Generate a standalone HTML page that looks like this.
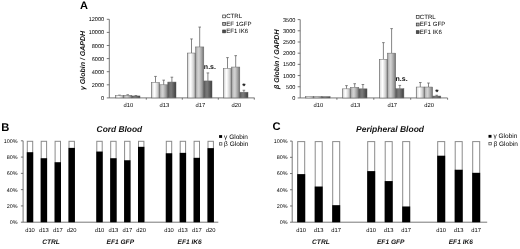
<!DOCTYPE html>
<html><head><meta charset="utf-8"><style>
html,body{margin:0;padding:0;background:#fff;}
body{width:520px;height:249px;overflow:hidden;}
svg{display:block;font-family:"Liberation Sans", sans-serif;text-rendering:geometricPrecision;will-change:transform;filter:blur(0.3px);}
</style></head><body>
<svg width="520" height="249" viewBox="0 0 520 249">
<rect width="520" height="249" fill="#fff"/>
<defs>
<linearGradient id="g0" x1="0" x2="1" y1="0" y2="0"><stop offset="0" stop-color="#8a8a8a"/><stop offset="0.15" stop-color="#e8e8e8"/><stop offset="0.4" stop-color="#ffffff"/><stop offset="0.75" stop-color="#d0d0d0"/><stop offset="1" stop-color="#8a8a8a"/></linearGradient>
<linearGradient id="g1" x1="0" x2="1" y1="0" y2="0"><stop offset="0" stop-color="#8a8a8a"/><stop offset="0.15" stop-color="#c0c0c0"/><stop offset="0.4" stop-color="#d4d4d4"/><stop offset="0.75" stop-color="#a0a0a0"/><stop offset="1" stop-color="#707070"/></linearGradient>
<linearGradient id="g2" x1="0" x2="1" y1="0" y2="0"><stop offset="0" stop-color="#505050"/><stop offset="0.15" stop-color="#6a6a6a"/><stop offset="0.4" stop-color="#7c7c7c"/><stop offset="0.75" stop-color="#5a5a5a"/><stop offset="1" stop-color="#3a3a3a"/></linearGradient>
</defs>
<text x="80.00" y="9.00" font-size="11" text-anchor="start" font-weight="bold" font-style="normal" fill="#000" >A</text>
<line x1="109.30" y1="19.30" x2="109.30" y2="97.90" stroke="#555" stroke-width="0.8"/>
<line x1="106.80" y1="97.90" x2="109.30" y2="97.90" stroke="#555" stroke-width="0.8"/>
<text x="104.20" y="99.90" font-size="5.6" text-anchor="end" font-weight="normal" font-style="normal" fill="#000" >0</text>
<line x1="106.80" y1="84.80" x2="109.30" y2="84.80" stroke="#555" stroke-width="0.8"/>
<text x="104.20" y="86.80" font-size="5.6" text-anchor="end" font-weight="normal" font-style="normal" fill="#000" >2000</text>
<line x1="106.80" y1="71.70" x2="109.30" y2="71.70" stroke="#555" stroke-width="0.8"/>
<text x="104.20" y="73.70" font-size="5.6" text-anchor="end" font-weight="normal" font-style="normal" fill="#000" >4000</text>
<line x1="106.80" y1="58.60" x2="109.30" y2="58.60" stroke="#555" stroke-width="0.8"/>
<text x="104.20" y="60.60" font-size="5.6" text-anchor="end" font-weight="normal" font-style="normal" fill="#000" >6000</text>
<line x1="106.80" y1="45.50" x2="109.30" y2="45.50" stroke="#555" stroke-width="0.8"/>
<text x="104.20" y="47.50" font-size="5.6" text-anchor="end" font-weight="normal" font-style="normal" fill="#000" >8000</text>
<line x1="106.80" y1="32.40" x2="109.30" y2="32.40" stroke="#555" stroke-width="0.8"/>
<text x="104.20" y="34.40" font-size="5.6" text-anchor="end" font-weight="normal" font-style="normal" fill="#000" >10000</text>
<line x1="106.80" y1="19.30" x2="109.30" y2="19.30" stroke="#555" stroke-width="0.8"/>
<text x="104.20" y="21.30" font-size="5.6" text-anchor="end" font-weight="normal" font-style="normal" fill="#000" >12000</text>
<line x1="109.30" y1="97.90" x2="254.50" y2="97.90" stroke="#555" stroke-width="0.8"/>
<line x1="146.30" y1="97.90" x2="146.30" y2="99.70" stroke="#555" stroke-width="0.8"/>
<line x1="182.30" y1="97.90" x2="182.30" y2="99.70" stroke="#555" stroke-width="0.8"/>
<line x1="218.30" y1="97.90" x2="218.30" y2="99.70" stroke="#555" stroke-width="0.8"/>
<line x1="254.30" y1="97.90" x2="254.30" y2="99.70" stroke="#555" stroke-width="0.8"/>
<text x="128.30" y="107.00" font-size="5.8" text-anchor="middle" font-weight="normal" font-style="normal" fill="#000" >d10</text>
<line x1="119.50" y1="95.15" x2="119.50" y2="95.61" stroke="#666" stroke-width="0.8"/>
<line x1="118.20" y1="95.15" x2="120.80" y2="95.15" stroke="#666" stroke-width="0.8"/>
<rect x="115.40" y="95.61" width="8.20" height="2.29" fill="url(#g0)" stroke="#666" stroke-width="0.5"/>
<line x1="127.70" y1="94.76" x2="127.70" y2="95.28" stroke="#666" stroke-width="0.8"/>
<line x1="126.40" y1="94.76" x2="129.00" y2="94.76" stroke="#666" stroke-width="0.8"/>
<rect x="123.60" y="95.28" width="8.20" height="2.62" fill="url(#g1)" stroke="#666" stroke-width="0.5"/>
<line x1="135.90" y1="95.54" x2="135.90" y2="95.94" stroke="#666" stroke-width="0.8"/>
<line x1="134.60" y1="95.54" x2="137.20" y2="95.54" stroke="#666" stroke-width="0.8"/>
<rect x="131.80" y="95.94" width="8.20" height="1.97" fill="url(#g2)" stroke="#666" stroke-width="0.5"/>
<text x="164.30" y="107.00" font-size="5.8" text-anchor="middle" font-weight="normal" font-style="normal" fill="#000" >d13</text>
<line x1="155.50" y1="76.42" x2="155.50" y2="82.51" stroke="#666" stroke-width="0.8"/>
<line x1="154.20" y1="76.42" x2="156.80" y2="76.42" stroke="#666" stroke-width="0.8"/>
<rect x="151.40" y="82.51" width="8.20" height="15.39" fill="url(#g0)" stroke="#666" stroke-width="0.5"/>
<line x1="163.70" y1="80.15" x2="163.70" y2="84.80" stroke="#666" stroke-width="0.8"/>
<line x1="162.40" y1="80.15" x2="165.00" y2="80.15" stroke="#666" stroke-width="0.8"/>
<rect x="159.60" y="84.80" width="8.20" height="13.10" fill="url(#g1)" stroke="#666" stroke-width="0.5"/>
<line x1="171.90" y1="77.20" x2="171.90" y2="82.05" stroke="#666" stroke-width="0.8"/>
<line x1="170.60" y1="77.20" x2="173.20" y2="77.20" stroke="#666" stroke-width="0.8"/>
<rect x="167.80" y="82.05" width="8.20" height="15.85" fill="url(#g2)" stroke="#666" stroke-width="0.5"/>
<text x="200.30" y="107.00" font-size="5.8" text-anchor="middle" font-weight="normal" font-style="normal" fill="#000" >d17</text>
<line x1="191.50" y1="38.95" x2="191.50" y2="53.03" stroke="#666" stroke-width="0.8"/>
<line x1="190.20" y1="38.95" x2="192.80" y2="38.95" stroke="#666" stroke-width="0.8"/>
<rect x="187.40" y="53.03" width="8.20" height="44.87" fill="url(#g0)" stroke="#666" stroke-width="0.5"/>
<line x1="199.70" y1="27.09" x2="199.70" y2="46.94" stroke="#666" stroke-width="0.8"/>
<line x1="198.40" y1="27.09" x2="201.00" y2="27.09" stroke="#666" stroke-width="0.8"/>
<rect x="195.60" y="46.94" width="8.20" height="50.96" fill="url(#g1)" stroke="#666" stroke-width="0.5"/>
<line x1="207.90" y1="72.94" x2="207.90" y2="80.94" stroke="#666" stroke-width="0.8"/>
<line x1="206.60" y1="72.94" x2="209.20" y2="72.94" stroke="#666" stroke-width="0.8"/>
<rect x="203.80" y="80.94" width="8.20" height="16.96" fill="url(#g2)" stroke="#666" stroke-width="0.5"/>
<text x="236.30" y="107.00" font-size="5.8" text-anchor="middle" font-weight="normal" font-style="normal" fill="#000" >d20</text>
<line x1="227.50" y1="57.62" x2="227.50" y2="68.56" stroke="#666" stroke-width="0.8"/>
<line x1="226.20" y1="57.62" x2="228.80" y2="57.62" stroke="#666" stroke-width="0.8"/>
<rect x="223.40" y="68.56" width="8.20" height="29.34" fill="url(#g0)" stroke="#666" stroke-width="0.5"/>
<line x1="235.70" y1="55.65" x2="235.70" y2="67.05" stroke="#666" stroke-width="0.8"/>
<line x1="234.40" y1="55.65" x2="237.00" y2="55.65" stroke="#666" stroke-width="0.8"/>
<rect x="231.60" y="67.05" width="8.20" height="30.85" fill="url(#g1)" stroke="#666" stroke-width="0.5"/>
<line x1="243.90" y1="90.24" x2="243.90" y2="92.20" stroke="#666" stroke-width="0.8"/>
<line x1="242.60" y1="90.24" x2="245.20" y2="90.24" stroke="#666" stroke-width="0.8"/>
<rect x="239.80" y="92.20" width="8.20" height="5.70" fill="url(#g2)" stroke="#666" stroke-width="0.5"/>
<text transform="translate(84.90,60.50) rotate(-90)" font-size="7" text-anchor="middle" font-weight="bold" font-style="italic" fill="#111">γ Globin / GAPDH</text>
<rect x="222.70" y="15.00" width="2.8" height="2.8" fill="#ffffff" stroke="#333" stroke-width="0.7"/>
<text x="226.20" y="18.20" font-size="6.1" text-anchor="start" font-weight="normal" font-style="normal" fill="#000" >CTRL</text>
<rect x="222.70" y="22.50" width="2.8" height="2.8" fill="#b8b8b8" stroke="#333" stroke-width="0.7"/>
<text x="226.20" y="25.70" font-size="6.1" text-anchor="start" font-weight="normal" font-style="normal" fill="#000" >EF 1GFP</text>
<rect x="222.70" y="30.00" width="2.8" height="2.8" fill="#505050" stroke="#333" stroke-width="0.7"/>
<text x="226.20" y="33.20" font-size="6.1" text-anchor="start" font-weight="normal" font-style="normal" fill="#000" >EF1 IK6</text>
<text x="209.90" y="68.60" font-size="7.0" text-anchor="middle" font-weight="bold" font-style="normal" fill="#111" >n.s.</text>
<text x="243.90" y="88.70" font-size="8.5" text-anchor="middle" font-weight="bold" font-style="normal" fill="#111" >*</text>
<line x1="300.20" y1="19.60" x2="300.20" y2="97.95" stroke="#555" stroke-width="0.8"/>
<line x1="297.70" y1="97.95" x2="300.20" y2="97.95" stroke="#555" stroke-width="0.8"/>
<text x="295.40" y="99.95" font-size="5.6" text-anchor="end" font-weight="normal" font-style="normal" fill="#000" >0</text>
<line x1="297.70" y1="86.76" x2="300.20" y2="86.76" stroke="#555" stroke-width="0.8"/>
<text x="295.40" y="88.76" font-size="5.6" text-anchor="end" font-weight="normal" font-style="normal" fill="#000" >500</text>
<line x1="297.70" y1="75.56" x2="300.20" y2="75.56" stroke="#555" stroke-width="0.8"/>
<text x="295.40" y="77.56" font-size="5.6" text-anchor="end" font-weight="normal" font-style="normal" fill="#000" >1000</text>
<line x1="297.70" y1="64.37" x2="300.20" y2="64.37" stroke="#555" stroke-width="0.8"/>
<text x="295.40" y="66.37" font-size="5.6" text-anchor="end" font-weight="normal" font-style="normal" fill="#000" >1500</text>
<line x1="297.70" y1="53.18" x2="300.20" y2="53.18" stroke="#555" stroke-width="0.8"/>
<text x="295.40" y="55.18" font-size="5.6" text-anchor="end" font-weight="normal" font-style="normal" fill="#000" >2000</text>
<line x1="297.70" y1="41.99" x2="300.20" y2="41.99" stroke="#555" stroke-width="0.8"/>
<text x="295.40" y="43.99" font-size="5.6" text-anchor="end" font-weight="normal" font-style="normal" fill="#000" >2500</text>
<line x1="297.70" y1="30.79" x2="300.20" y2="30.79" stroke="#555" stroke-width="0.8"/>
<text x="295.40" y="32.79" font-size="5.6" text-anchor="end" font-weight="normal" font-style="normal" fill="#000" >3000</text>
<line x1="297.70" y1="19.60" x2="300.20" y2="19.60" stroke="#555" stroke-width="0.8"/>
<text x="295.40" y="21.60" font-size="5.6" text-anchor="end" font-weight="normal" font-style="normal" fill="#000" >3500</text>
<line x1="300.20" y1="97.95" x2="447.50" y2="97.95" stroke="#555" stroke-width="0.8"/>
<line x1="336.90" y1="97.95" x2="336.90" y2="99.75" stroke="#555" stroke-width="0.8"/>
<line x1="373.80" y1="97.95" x2="373.80" y2="99.75" stroke="#555" stroke-width="0.8"/>
<line x1="410.70" y1="97.95" x2="410.70" y2="99.75" stroke="#555" stroke-width="0.8"/>
<line x1="447.60" y1="97.95" x2="447.60" y2="99.75" stroke="#555" stroke-width="0.8"/>
<text x="318.45" y="107.00" font-size="5.8" text-anchor="middle" font-weight="normal" font-style="normal" fill="#000" >d10</text>
<rect x="305.50" y="96.61" width="8.20" height="1.34" fill="url(#g0)" stroke="#666" stroke-width="0.5"/>
<rect x="313.70" y="96.61" width="8.20" height="1.34" fill="url(#g1)" stroke="#666" stroke-width="0.5"/>
<rect x="321.90" y="96.61" width="8.20" height="1.34" fill="url(#g2)" stroke="#666" stroke-width="0.5"/>
<text x="355.35" y="107.00" font-size="5.8" text-anchor="middle" font-weight="normal" font-style="normal" fill="#000" >d13</text>
<line x1="346.50" y1="85.64" x2="346.50" y2="88.84" stroke="#666" stroke-width="0.8"/>
<line x1="345.20" y1="85.64" x2="347.80" y2="85.64" stroke="#666" stroke-width="0.8"/>
<rect x="342.40" y="88.84" width="8.20" height="9.11" fill="url(#g0)" stroke="#666" stroke-width="0.5"/>
<line x1="354.70" y1="83.71" x2="354.70" y2="87.34" stroke="#666" stroke-width="0.8"/>
<line x1="353.40" y1="83.71" x2="356.00" y2="83.71" stroke="#666" stroke-width="0.8"/>
<rect x="350.60" y="87.34" width="8.20" height="10.61" fill="url(#g1)" stroke="#666" stroke-width="0.5"/>
<line x1="362.90" y1="84.52" x2="362.90" y2="88.84" stroke="#666" stroke-width="0.8"/>
<line x1="361.60" y1="84.52" x2="364.20" y2="84.52" stroke="#666" stroke-width="0.8"/>
<rect x="358.80" y="88.84" width="8.20" height="9.11" fill="url(#g2)" stroke="#666" stroke-width="0.5"/>
<text x="392.25" y="107.00" font-size="5.8" text-anchor="middle" font-weight="normal" font-style="normal" fill="#000" >d17</text>
<line x1="383.40" y1="42.63" x2="383.40" y2="59.27" stroke="#666" stroke-width="0.8"/>
<line x1="382.10" y1="42.63" x2="384.70" y2="42.63" stroke="#666" stroke-width="0.8"/>
<rect x="379.30" y="59.27" width="8.20" height="38.68" fill="url(#g0)" stroke="#666" stroke-width="0.5"/>
<line x1="391.60" y1="28.62" x2="391.60" y2="53.16" stroke="#666" stroke-width="0.8"/>
<line x1="390.30" y1="28.62" x2="392.90" y2="28.62" stroke="#666" stroke-width="0.8"/>
<rect x="387.50" y="53.16" width="8.20" height="44.79" fill="url(#g1)" stroke="#666" stroke-width="0.5"/>
<line x1="399.80" y1="85.41" x2="399.80" y2="88.73" stroke="#666" stroke-width="0.8"/>
<line x1="398.50" y1="85.41" x2="401.10" y2="85.41" stroke="#666" stroke-width="0.8"/>
<rect x="395.70" y="88.73" width="8.20" height="9.22" fill="url(#g2)" stroke="#666" stroke-width="0.5"/>
<text x="429.15" y="107.00" font-size="5.8" text-anchor="middle" font-weight="normal" font-style="normal" fill="#000" >d20</text>
<line x1="420.30" y1="82.53" x2="420.30" y2="87.03" stroke="#666" stroke-width="0.8"/>
<line x1="419.00" y1="82.53" x2="421.60" y2="82.53" stroke="#666" stroke-width="0.8"/>
<rect x="416.20" y="87.03" width="8.20" height="10.92" fill="url(#g0)" stroke="#666" stroke-width="0.5"/>
<line x1="428.50" y1="83.02" x2="428.50" y2="87.03" stroke="#666" stroke-width="0.8"/>
<line x1="427.20" y1="83.02" x2="429.80" y2="83.02" stroke="#666" stroke-width="0.8"/>
<rect x="424.40" y="87.03" width="8.20" height="10.92" fill="url(#g1)" stroke="#666" stroke-width="0.5"/>
<line x1="436.70" y1="95.26" x2="436.70" y2="96.05" stroke="#666" stroke-width="0.8"/>
<line x1="435.40" y1="95.26" x2="438.00" y2="95.26" stroke="#666" stroke-width="0.8"/>
<rect x="432.60" y="96.05" width="8.20" height="1.90" fill="url(#g2)" stroke="#666" stroke-width="0.5"/>
<text transform="translate(279.00,59.30) rotate(-90)" font-size="7" text-anchor="middle" font-weight="bold" font-style="italic" fill="#111">β Globin / GAPDH</text>
<rect x="416.30" y="15.50" width="2.8" height="2.8" fill="#ffffff" stroke="#333" stroke-width="0.7"/>
<text x="419.80" y="18.70" font-size="6.1" text-anchor="start" font-weight="normal" font-style="normal" fill="#000" >CTRL</text>
<rect x="416.30" y="23.10" width="2.8" height="2.8" fill="#b8b8b8" stroke="#333" stroke-width="0.7"/>
<text x="419.80" y="26.30" font-size="6.1" text-anchor="start" font-weight="normal" font-style="normal" fill="#000" >EF1 GFP</text>
<rect x="416.30" y="30.70" width="2.8" height="2.8" fill="#505050" stroke="#333" stroke-width="0.7"/>
<text x="419.80" y="33.90" font-size="6.1" text-anchor="start" font-weight="normal" font-style="normal" fill="#000" >EF1 IK6</text>
<text x="401.60" y="81.20" font-size="7.0" text-anchor="middle" font-weight="bold" font-style="normal" fill="#111" >n.s.</text>
<text x="437.00" y="95.10" font-size="8.5" text-anchor="middle" font-weight="bold" font-style="normal" fill="#111" >*</text>
<text x="1.20" y="131.20" font-size="11.2" text-anchor="start" font-weight="bold" font-style="normal" fill="#000" >B</text>
<text x="96.60" y="131.90" font-size="8.4" text-anchor="start" font-weight="bold" font-style="italic" fill="#111" >Cord Blood</text>
<line x1="23.10" y1="140.80" x2="23.10" y2="222.20" stroke="#555" stroke-width="0.8"/>
<line x1="20.90" y1="222.20" x2="23.10" y2="222.20" stroke="#555" stroke-width="0.8"/>
<text x="17.60" y="224.10" font-size="5.4" text-anchor="end" font-weight="normal" font-style="normal" fill="#000" >0%</text>
<line x1="20.90" y1="205.92" x2="23.10" y2="205.92" stroke="#555" stroke-width="0.8"/>
<text x="17.60" y="207.82" font-size="5.4" text-anchor="end" font-weight="normal" font-style="normal" fill="#000" >20%</text>
<line x1="20.90" y1="189.64" x2="23.10" y2="189.64" stroke="#555" stroke-width="0.8"/>
<text x="17.60" y="191.54" font-size="5.4" text-anchor="end" font-weight="normal" font-style="normal" fill="#000" >40%</text>
<line x1="20.90" y1="173.36" x2="23.10" y2="173.36" stroke="#555" stroke-width="0.8"/>
<text x="17.60" y="175.26" font-size="5.4" text-anchor="end" font-weight="normal" font-style="normal" fill="#000" >60%</text>
<line x1="20.90" y1="157.08" x2="23.10" y2="157.08" stroke="#555" stroke-width="0.8"/>
<text x="17.60" y="158.98" font-size="5.4" text-anchor="end" font-weight="normal" font-style="normal" fill="#000" >80%</text>
<line x1="20.90" y1="140.80" x2="23.10" y2="140.80" stroke="#555" stroke-width="0.8"/>
<text x="17.60" y="142.70" font-size="5.4" text-anchor="end" font-weight="normal" font-style="normal" fill="#000" >100%</text>
<line x1="23.10" y1="222.20" x2="218.30" y2="222.20" stroke="#555" stroke-width="0.8"/>
<rect x="27.30" y="141.30" width="5.40" height="80.90" fill="#fff" stroke="#8a8a8a" stroke-width="1.0"/>
<rect x="26.80" y="152.20" width="6.40" height="70.00" fill="#000" stroke="none" stroke-width="0"/>
<text x="30.00" y="232.00" font-size="5.8" text-anchor="middle" font-weight="normal" font-style="normal" fill="#000" >d10</text>
<rect x="41.20" y="141.30" width="5.40" height="80.90" fill="#fff" stroke="#8a8a8a" stroke-width="1.0"/>
<rect x="40.70" y="158.22" width="6.40" height="63.98" fill="#000" stroke="none" stroke-width="0"/>
<text x="43.90" y="232.00" font-size="5.8" text-anchor="middle" font-weight="normal" font-style="normal" fill="#000" >d13</text>
<rect x="55.10" y="141.30" width="5.40" height="80.90" fill="#fff" stroke="#8a8a8a" stroke-width="1.0"/>
<rect x="54.60" y="162.21" width="6.40" height="59.99" fill="#000" stroke="none" stroke-width="0"/>
<text x="57.80" y="232.00" font-size="5.8" text-anchor="middle" font-weight="normal" font-style="normal" fill="#000" >d17</text>
<rect x="69.00" y="141.30" width="5.40" height="80.90" fill="#fff" stroke="#8a8a8a" stroke-width="1.0"/>
<rect x="68.50" y="147.88" width="6.40" height="74.32" fill="#000" stroke="none" stroke-width="0"/>
<text x="71.70" y="232.00" font-size="5.8" text-anchor="middle" font-weight="normal" font-style="normal" fill="#000" >d20</text>
<rect x="96.80" y="141.30" width="5.40" height="80.90" fill="#fff" stroke="#8a8a8a" stroke-width="1.0"/>
<rect x="96.30" y="151.54" width="6.40" height="70.66" fill="#000" stroke="none" stroke-width="0"/>
<text x="99.50" y="232.00" font-size="5.8" text-anchor="middle" font-weight="normal" font-style="normal" fill="#000" >d10</text>
<rect x="110.70" y="141.30" width="5.40" height="80.90" fill="#fff" stroke="#8a8a8a" stroke-width="1.0"/>
<rect x="110.20" y="158.22" width="6.40" height="63.98" fill="#000" stroke="none" stroke-width="0"/>
<text x="113.40" y="232.00" font-size="5.8" text-anchor="middle" font-weight="normal" font-style="normal" fill="#000" >d13</text>
<rect x="124.60" y="141.30" width="5.40" height="80.90" fill="#fff" stroke="#8a8a8a" stroke-width="1.0"/>
<rect x="124.10" y="160.25" width="6.40" height="61.95" fill="#000" stroke="none" stroke-width="0"/>
<text x="127.30" y="232.00" font-size="5.8" text-anchor="middle" font-weight="normal" font-style="normal" fill="#000" >d17</text>
<rect x="138.50" y="141.30" width="5.40" height="80.90" fill="#fff" stroke="#8a8a8a" stroke-width="1.0"/>
<rect x="138.00" y="146.82" width="6.40" height="75.38" fill="#000" stroke="none" stroke-width="0"/>
<text x="141.20" y="232.00" font-size="5.8" text-anchor="middle" font-weight="normal" font-style="normal" fill="#000" >d20</text>
<rect x="166.30" y="141.30" width="5.40" height="80.90" fill="#fff" stroke="#8a8a8a" stroke-width="1.0"/>
<rect x="165.80" y="153.25" width="6.40" height="68.95" fill="#000" stroke="none" stroke-width="0"/>
<text x="169.00" y="232.00" font-size="5.8" text-anchor="middle" font-weight="normal" font-style="normal" fill="#000" >d10</text>
<rect x="180.20" y="141.30" width="5.40" height="80.90" fill="#fff" stroke="#8a8a8a" stroke-width="1.0"/>
<rect x="179.70" y="152.85" width="6.40" height="69.35" fill="#000" stroke="none" stroke-width="0"/>
<text x="182.90" y="232.00" font-size="5.8" text-anchor="middle" font-weight="normal" font-style="normal" fill="#000" >d13</text>
<rect x="194.10" y="141.30" width="5.40" height="80.90" fill="#fff" stroke="#8a8a8a" stroke-width="1.0"/>
<rect x="193.60" y="157.81" width="6.40" height="64.39" fill="#000" stroke="none" stroke-width="0"/>
<text x="196.80" y="232.00" font-size="5.8" text-anchor="middle" font-weight="normal" font-style="normal" fill="#000" >d17</text>
<rect x="208.00" y="141.30" width="5.40" height="80.90" fill="#fff" stroke="#8a8a8a" stroke-width="1.0"/>
<rect x="207.50" y="148.13" width="6.40" height="74.07" fill="#000" stroke="none" stroke-width="0"/>
<text x="210.70" y="232.00" font-size="5.8" text-anchor="middle" font-weight="normal" font-style="normal" fill="#000" >d20</text>
<text x="51.00" y="244.20" font-size="6.6" text-anchor="middle" font-weight="bold" font-style="italic" fill="#111" >CTRL</text>
<text x="120.30" y="244.20" font-size="6.6" text-anchor="middle" font-weight="bold" font-style="italic" fill="#111" >EF1 GFP</text>
<text x="189.60" y="244.20" font-size="6.6" text-anchor="middle" font-weight="bold" font-style="italic" fill="#111" >EF1 IK6</text>
<rect x="219.10" y="135.10" width="3.00" height="2.80" fill="#000" stroke="none" stroke-width="0"/>
<text x="224.10" y="138.60" font-size="6.5" text-anchor="start" font-weight="normal" font-style="normal" fill="#000" >γ Globin</text>
<rect x="219.50" y="142.70" width="2.40" height="2.40" fill="#fff" stroke="#444" stroke-width="0.7"/>
<text x="224.10" y="145.90" font-size="6.5" text-anchor="start" font-weight="normal" font-style="normal" fill="#000" >β Globin</text>
<text x="272.40" y="129.80" font-size="11.2" text-anchor="start" font-weight="bold" font-style="normal" fill="#000" >C</text>
<text x="356.00" y="132.30" font-size="8.5" text-anchor="start" font-weight="bold" font-style="italic" fill="#111" >Peripheral Blood</text>
<line x1="292.20" y1="141.10" x2="292.20" y2="222.20" stroke="#555" stroke-width="0.8"/>
<line x1="290.00" y1="222.20" x2="292.20" y2="222.20" stroke="#555" stroke-width="0.8"/>
<text x="287.60" y="224.10" font-size="5.4" text-anchor="end" font-weight="normal" font-style="normal" fill="#000" >0%</text>
<line x1="290.00" y1="205.98" x2="292.20" y2="205.98" stroke="#555" stroke-width="0.8"/>
<text x="287.60" y="207.88" font-size="5.4" text-anchor="end" font-weight="normal" font-style="normal" fill="#000" >20%</text>
<line x1="290.00" y1="189.76" x2="292.20" y2="189.76" stroke="#555" stroke-width="0.8"/>
<text x="287.60" y="191.66" font-size="5.4" text-anchor="end" font-weight="normal" font-style="normal" fill="#000" >40%</text>
<line x1="290.00" y1="173.54" x2="292.20" y2="173.54" stroke="#555" stroke-width="0.8"/>
<text x="287.60" y="175.44" font-size="5.4" text-anchor="end" font-weight="normal" font-style="normal" fill="#000" >60%</text>
<line x1="290.00" y1="157.32" x2="292.20" y2="157.32" stroke="#555" stroke-width="0.8"/>
<text x="287.60" y="159.22" font-size="5.4" text-anchor="end" font-weight="normal" font-style="normal" fill="#000" >80%</text>
<line x1="290.00" y1="141.10" x2="292.20" y2="141.10" stroke="#555" stroke-width="0.8"/>
<text x="287.60" y="143.00" font-size="5.4" text-anchor="end" font-weight="normal" font-style="normal" fill="#000" >100%</text>
<line x1="292.20" y1="222.20" x2="487.20" y2="222.20" stroke="#555" stroke-width="0.8"/>
<rect x="297.70" y="141.60" width="7.00" height="80.60" fill="#fff" stroke="#8a8a8a" stroke-width="1.0"/>
<rect x="297.20" y="174.11" width="8.00" height="48.09" fill="#000" stroke="none" stroke-width="0"/>
<text x="301.20" y="232.00" font-size="5.8" text-anchor="middle" font-weight="normal" font-style="normal" fill="#000" >d10</text>
<rect x="315.20" y="141.60" width="7.00" height="80.60" fill="#fff" stroke="#8a8a8a" stroke-width="1.0"/>
<rect x="314.70" y="186.52" width="8.00" height="35.68" fill="#000" stroke="none" stroke-width="0"/>
<text x="318.70" y="232.00" font-size="5.8" text-anchor="middle" font-weight="normal" font-style="normal" fill="#000" >d13</text>
<rect x="332.70" y="141.60" width="7.00" height="80.60" fill="#fff" stroke="#8a8a8a" stroke-width="1.0"/>
<rect x="332.20" y="205.17" width="8.00" height="17.03" fill="#000" stroke="none" stroke-width="0"/>
<text x="336.20" y="232.00" font-size="5.8" text-anchor="middle" font-weight="normal" font-style="normal" fill="#000" >d17</text>
<rect x="367.70" y="141.60" width="7.00" height="80.60" fill="#fff" stroke="#8a8a8a" stroke-width="1.0"/>
<rect x="367.20" y="171.11" width="8.00" height="51.09" fill="#000" stroke="none" stroke-width="0"/>
<text x="371.20" y="232.00" font-size="5.8" text-anchor="middle" font-weight="normal" font-style="normal" fill="#000" >d10</text>
<rect x="385.20" y="141.60" width="7.00" height="80.60" fill="#fff" stroke="#8a8a8a" stroke-width="1.0"/>
<rect x="384.70" y="181.08" width="8.00" height="41.12" fill="#000" stroke="none" stroke-width="0"/>
<text x="388.70" y="232.00" font-size="5.8" text-anchor="middle" font-weight="normal" font-style="normal" fill="#000" >d13</text>
<rect x="402.70" y="141.60" width="7.00" height="80.60" fill="#fff" stroke="#8a8a8a" stroke-width="1.0"/>
<rect x="402.20" y="206.47" width="8.00" height="15.73" fill="#000" stroke="none" stroke-width="0"/>
<text x="406.20" y="232.00" font-size="5.8" text-anchor="middle" font-weight="normal" font-style="normal" fill="#000" >d17</text>
<rect x="437.70" y="141.60" width="7.00" height="80.60" fill="#fff" stroke="#8a8a8a" stroke-width="1.0"/>
<rect x="437.20" y="155.70" width="8.00" height="66.50" fill="#000" stroke="none" stroke-width="0"/>
<text x="441.20" y="232.00" font-size="5.8" text-anchor="middle" font-weight="normal" font-style="normal" fill="#000" >d10</text>
<rect x="455.20" y="141.60" width="7.00" height="80.60" fill="#fff" stroke="#8a8a8a" stroke-width="1.0"/>
<rect x="454.70" y="169.73" width="8.00" height="52.47" fill="#000" stroke="none" stroke-width="0"/>
<text x="458.70" y="232.00" font-size="5.8" text-anchor="middle" font-weight="normal" font-style="normal" fill="#000" >d13</text>
<rect x="472.70" y="141.60" width="7.00" height="80.60" fill="#fff" stroke="#8a8a8a" stroke-width="1.0"/>
<rect x="472.20" y="172.81" width="8.00" height="49.39" fill="#000" stroke="none" stroke-width="0"/>
<text x="476.20" y="232.00" font-size="5.8" text-anchor="middle" font-weight="normal" font-style="normal" fill="#000" >d17</text>
<text x="320.90" y="244.20" font-size="6.6" text-anchor="middle" font-weight="bold" font-style="italic" fill="#111" >CTRL</text>
<text x="390.70" y="244.20" font-size="6.6" text-anchor="middle" font-weight="bold" font-style="italic" fill="#111" >EF1 GFP</text>
<text x="460.80" y="244.20" font-size="6.6" text-anchor="middle" font-weight="bold" font-style="italic" fill="#111" >EF1 IK6</text>
<rect x="488.50" y="134.90" width="3.00" height="2.80" fill="#000" stroke="none" stroke-width="0"/>
<text x="493.50" y="138.40" font-size="6.5" text-anchor="start" font-weight="normal" font-style="normal" fill="#000" >γ Globin</text>
<rect x="488.90" y="142.50" width="2.40" height="2.40" fill="#fff" stroke="#444" stroke-width="0.7"/>
<text x="493.50" y="145.70" font-size="6.5" text-anchor="start" font-weight="normal" font-style="normal" fill="#000" >β Globin</text>
</svg>
</body></html>
